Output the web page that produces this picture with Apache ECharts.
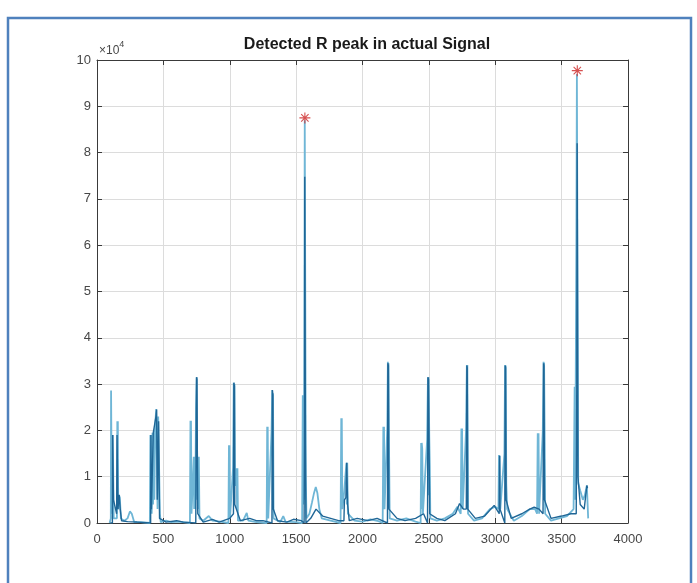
<!DOCTYPE html>
<html>
<head>
<meta charset="utf-8">
<script src="https://cdn.jsdelivr.net/npm/echarts@6/dist/echarts.min.js"></script>
<style>
html,body{margin:0;padding:0;background:#fff;}
#chart{width:697px;height:583px;}
</style>
</head>
<body>
<div id="chart"></div>
<script>
// values in units of 10^4 as read on the y axis
const SCALE = 10000;
const xTicks = [0, 500, 1000, 1500, 2000, 2500, 3000, 3500, 4000];
const yTicks = [0, 1, 2, 3, 4, 5, 6, 7, 8, 9, 10];

const lightX = [95,104,106,110,112,114,117,119,122,126,150,153,155,157,160,166,172,180,205,230,248,262,280,330,
  398,402,405,408,412,418,422,428,432,438,446,451,456,461,469,474,480,520,560,620,
  700,704,706,708,712,729,732,735,740,746,751,755,761,764,767,772,800,842,870,930,
  990,994,996,998,1002,1025,1030,1033,1036,1040,1052,1055,1058,1062,1100,1128,1140,1200,
  1278,1282,1284,1286,1290,1315,1320,1323,1326,1330,1380,1403,1420,1500,
  1545,1550,1553,1556,1560,1563,1565,1569,1573,1578,1600,1620,1635,1648,1660,1675,1693,1760,
  1835,1840,1842,1844,1848,1860,1879,1882,1885,1890,1940,2000,2060,2120,
  2152,2157,2160,2162,2166,2187,2191,2194,2196,2200,2205,2260,2330,2400,
  2438,2442,2444,2446,2450,2455,2487,2493,2495,2498,2503,2507,2511,2560,2620,2680,2715,
  2740,2745,2748,2750,2755,2780,2786,2788,2790,2795,2840,2900,2960,3000,
  3024,3028,3030,3033,3038,3069,3074,3077,3079,3083,3090,3140,3200,3260,3300,
  3315,3320,3323,3326,3330,3358,3364,3366,3368,3372,3376,3420,3480,3540,
  3590,3598,3602,3606,3611,3615,3620,3625,3640,3660,3675,3686,3690,3700];
const lightY = [0,0.1,2.86,2.86,0.2,1.9,0.3,1.9,1.9,0.1,0.1,2.2,0.4,2.2,0.3,0.6,0.55,0.1,0.05,0.1,0.25,0.2,0.02,0.02,
  0,1.9,0.3,1.9,0.2,1.95,0.4,2.0,0.5,2.1,2.46,2.46,0.3,2.3,2.27,0.2,0.02,0.05,0.02,0.03,
  0,2.21,0.3,2.21,0.2,1.43,0.3,1.43,0.3,2.5,3.15,0.5,1.43,0.3,1.43,0.1,0.05,0.15,0.05,0.03,
  0,1.68,0.2,1.68,0.1,1.2,3.03,0.6,3.0,0.8,1.18,0.3,1.18,0.05,0.05,0.22,0.05,0.02,
  0,2.08,0.3,2.08,0.1,2.0,2.87,0.5,2.8,0.1,0.02,0.15,0.03,0.02,
  0,2.76,0.4,2.76,0.5,6.0,8.7,8.7,1.0,0.1,0.2,0.45,0.65,0.78,0.65,0.3,0.1,0.05,
  0,2.26,0.3,2.26,0.3,0.6,1.3,0.4,1.3,0.2,0.05,0.03,0.08,0.04,
  0,2.08,0.3,2.08,0.3,2.1,3.48,0.6,3.45,1.62,0.1,0.05,0.1,0.03,
  0,1.73,0.3,1.73,1.6,0.2,1.8,3.15,0.6,3.15,1.86,1.22,0.1,0.05,0.1,0.2,0.35,
  0.2,2.04,0.3,2.04,0.3,2.0,3.41,0.6,3.41,0.2,0.05,0.1,0.3,0.35,
  0.3,1.47,0.4,1.45,0.3,1.5,3.41,0.6,3.4,0.86,0.3,0.05,0.15,0.3,0.3,
  0.2,1.94,0.3,1.94,0.2,1.97,3.48,0.6,3.46,1.95,0.2,0.05,0.1,0.15,
  0.3,2.94,0.5,2.94,6.0,9.7,9.7,0.86,0.7,0.5,0.6,0.75,0.81,0.1];

const darkX = [100,116,118,121,124,148,151,155,158,167,175,185,230,300,
  404,406,410,424,444,449,454,464,471,520,600,650,
  744,748,750,753,756,759,800,870,920,
  1000,1028,1031,1035,1038,1080,1150,1200,1250,
  1318,1321,1325,1328,1360,1430,1480,1540,
  1560,1563,1565,1568,1570,1574,1610,1650,1700,1760,1820,
  1860,1864,1875,1881,1884,1888,1900,1960,2040,2110,
  2188,2191,2195,2199,2260,2320,2400,2460,
  2490,2493,2497,2502,2506,2560,2620,2700,2731,2760,
  2782,2786,2789,2793,2850,2920,2992,
  3030,3033,3036,3072,3075,3078,3082,3120,3200,3260,3293,3330,
  3360,3364,3367,3371,3420,3500,3570,
  3610,3614,3617,3620,3623,3640,3670,3690,3695];
const darkY = [0,0,1.9,1.9,0.5,0.2,1.9,1.9,0.3,0.61,0.3,0.05,0.03,0.02,
  0,1.9,0.3,1.95,2.3,2.45,0.5,2.2,0.1,0.02,0.05,0.02,
  0,2.4,3.15,3.1,1.5,0.2,0.02,0.08,0.02,
  0.1,0.2,3.03,2.95,0.4,0.05,0.1,0.05,0.05,
  0,2.87,2.75,0.3,0.05,0.02,0.08,0.05,
  0,1.68,7.48,7.48,1.68,0,0.1,0.3,0.15,0.1,0.05,
  0.05,0.5,0.55,1.3,1.3,0.4,0.05,0.1,0.05,0.1,
  0,3.45,3.4,0.3,0.1,0.05,0.1,0.2,
  0,3.15,3.1,1.5,0.2,0.1,0.05,0.2,0.42,0.3,
  0.3,3.4,3.35,0.3,0.1,0.15,0.38,
  0.2,1.45,0.3,0,3.4,3.35,0.5,0.1,0.2,0.3,0.34,0.3,
  0.2,3.45,3.4,0.5,0.1,0.15,0.2,
  0.2,2.9,8.2,8.2,1.0,0.4,0.3,0.81,0.75];

const peakX = [1566, 3618];
const peakY = [8.75, 9.77];

const pair = (xs, ys) => xs.map((x, i) => [x, ys[i] * SCALE]);

const asterisk = 'path://M9,0h2v20h-2z M0,9h20v2h-20z M2.6,4.0l1.4,-1.4l13.4,13.4l-1.4,1.4z M16.0,2.6l1.4,1.4l-13.4,13.4l-1.4,-1.4z';

const chart = echarts.init(document.getElementById('chart'), null, {renderer: 'canvas'});
const axisCommonX = {
  type: 'value', min: xTicks[0], max: xTicks[xTicks.length - 1], interval: xTicks[1] - xTicks[0]
};
const axisCommonY = {
  type: 'value', min: yTicks[0] * SCALE, max: yTicks[yTicks.length - 1] * SCALE, interval: (yTicks[1] - yTicks[0]) * SCALE
};
const font = "'Liberation Sans', Arial, sans-serif";
const lineCol = '#3a3a3a';
chart.setOption({
  animation: false,
  backgroundColor: '#ffffff',
  title: {
    text: 'Detected R peak in actual Signal',
    left: 362, top: 32, textAlign: 'center',
    textStyle: {fontFamily: font, fontSize: 16, fontWeight: 'bold', color: '#1a1a1a'}
  },
  grid: {left: 97, right: 69, top: 60, bottom: 60, show: false},
  xAxis: [
    Object.assign({}, axisCommonX, {
      position: 'bottom',
      axisLine: {show: true, onZero: false, lineStyle: {color: lineCol, width: 1}},
      axisTick: {show: true, inside: true, length: 5, lineStyle: {color: lineCol}},
      axisLabel: {show: true, margin: 10, color: '#474747', fontFamily: font, fontSize: 13,
        formatter: v => String(v)},
      splitLine: {show: true, lineStyle: {color: '#dcdcdc', width: 1}}
    }),
    Object.assign({}, axisCommonX, {
      position: 'top',
      axisLine: {show: true, onZero: false, lineStyle: {color: lineCol, width: 1}},
      axisTick: {show: true, inside: true, length: 5, lineStyle: {color: lineCol}},
      axisLabel: {show: false},
      splitLine: {show: false}
    })
  ],
  yAxis: [
    Object.assign({}, axisCommonY, {
      position: 'left',
      axisLine: {show: true, onZero: false, lineStyle: {color: lineCol, width: 1}},
      axisTick: {show: true, inside: true, length: 5, lineStyle: {color: lineCol}},
      axisLabel: {show: true, margin: 6, color: '#474747', fontFamily: font, fontSize: 13,
        formatter: v => String(Math.round(v / SCALE))},
      splitLine: {show: true, lineStyle: {color: '#dcdcdc', width: 1}}
    }),
    Object.assign({}, axisCommonY, {
      position: 'right',
      axisLine: {show: true, onZero: false, lineStyle: {color: lineCol, width: 1}},
      axisTick: {show: true, inside: true, length: 5, lineStyle: {color: lineCol}},
      axisLabel: {show: false},
      splitLine: {show: false}
    })
  ],
  graphic: [
    {type: 'rect', shape: {x: 8, y: 18, width: 683, height: 620},
     style: {fill: 'none', stroke: '#4f81bd', lineWidth: 2.5}, silent: true},
    {type: 'text', left: 99, top: 40,
     style: {text: '{a|×10}{b|4}', rich: {
       a: {fontFamily: font, fontSize: 12, fill: '#474747', verticalAlign: 'bottom'},
       b: {fontFamily: font, fontSize: 9, fill: '#474747', verticalAlign: 'top', padding: [0, 0, 8, 0]}
     }}}
  ],
  series: [
    {type: 'line', name: 'signal', xAxisIndex: 0, yAxisIndex: 0, data: pair(lightX, lightY),
     showSymbol: false, symbol: 'none', lineStyle: {color: '#6fb6d6', width: 1.8}, z: 2},
    {type: 'line', name: 'filtered', xAxisIndex: 0, yAxisIndex: 0, data: pair(darkX, darkY),
     showSymbol: false, symbol: 'none', lineStyle: {color: '#1f6696', width: 1.4}, z: 3},
    {type: 'scatter', name: 'R peaks', xAxisIndex: 0, yAxisIndex: 0, data: pair(peakX, peakY),
     symbol: asterisk, symbolSize: 11, itemStyle: {color: '#cc2424'}, z: 5}
  ]
});
</script>
</body>
</html>
